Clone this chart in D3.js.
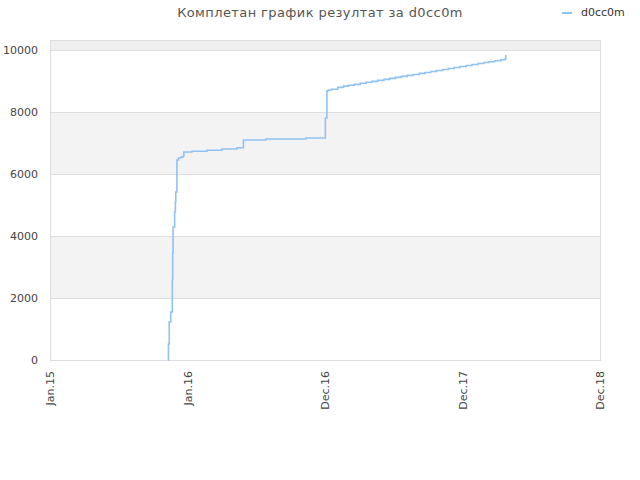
<!DOCTYPE html>
<html><head><meta charset="utf-8">
<script src="https://cdn.jsdelivr.net/npm/d3@7"></script>
<style>body{margin:0;background:#fff}svg{display:block}text{font-family:"DejaVu Sans",sans-serif}</style>
</head><body><svg id="c" width="640" height="480"></svg>
<script>
const title = "Комплетан график резултат за d0cc0m";
const seriesName = "d0cc0m";
const xTickLabels = ["Jan.15","Jan.16","Dec.16","Dec.17","Dec.18"];
const xDomain = ["2015-01-15","2018-12-15"];
const yTicks = [0,2000,4000,6000,8000,10000];
const yMax = 10323;
const dates = ["2015-11-18","2015-11-19","2015-11-21","2015-11-25","2015-11-29","2015-11-30","2015-12-01","2015-12-05","2015-12-07","2015-12-08","2015-12-11","2015-12-15","2015-12-21","2015-12-27","2015-12-29","2016-01-19","2016-02-27","2016-04-06","2016-05-15","2016-06-01","2016-07-29","2016-11-10","2016-12-31","2017-01-04","2017-01-08","2017-01-16","2017-02-01","2017-02-16","2017-03-01","2017-03-16","2017-04-01","2017-04-16","2017-05-01","2017-05-16","2017-06-01","2017-06-16","2017-07-01","2017-07-16","2017-08-01","2017-08-16","2017-09-01","2017-09-16","2017-10-01","2017-10-16","2017-11-01","2017-11-16","2017-12-01","2017-12-16","2018-01-01","2018-01-16","2018-02-01","2018-02-16","2018-03-01","2018-03-16","2018-04-01","2018-04-12","2018-04-14"];
const values = [0,516,1226,1548,2581,3452,4290,4774,5097,5419,6452,6516,6548,6581,6710,6732,6765,6806,6848,7097,7129,7161,7806,8687,8710,8734,8795,8835,8862,8893,8926,8958,8989,9020,9054,9085,9116,9148,9181,9212,9246,9277,9308,9339,9373,9404,9435,9467,9500,9531,9565,9596,9623,9654,9688,9710,9840];

const svg = d3.select("#c");
const L=50,R=600,T=40,B=360;
const parse = d3.utcParse("%Y-%m-%d");
const x = d3.scaleUtc().domain(xDomain.map(parse)).range([L,R]);
const y = d3.scaleLinear().domain([0,yMax]).range([B,T]);

// bands
const bandEdges = yTicks.concat([yMax]);
for(let i=0;i<bandEdges.length-1;i++){
  if(i%2===1){
    svg.append("rect").attr("x",L).attr("width",R-L)
      .attr("y",y(bandEdges[i+1])).attr("height",y(bandEdges[i])-y(bandEdges[i+1]))
      .attr("fill", i===bandEdges.length-2 ? "#efefef" : "#f3f3f3");
  }
}
// grid
svg.append("g").selectAll("line").data(yTicks).join("line")
  .attr("x1",L).attr("x2",R).attr("y1",d=>y(d)).attr("y2",d=>y(d))
  .attr("stroke","#dddddd").attr("stroke-width",1).attr("shape-rendering","crispEdges");
svg.append("rect").attr("x",L).attr("y",T).attr("width",R-L).attr("height",B-T)
  .attr("fill","none").attr("stroke","#dddddd").attr("shape-rendering","crispEdges");

// y labels
svg.append("g").selectAll("text").data(yTicks).join("text")
  .attr("x",38).attr("y",d=>y(d)+4).attr("text-anchor","end")
  .attr("font-size",11).attr("fill","#444").text(d=>d);

// x labels
const d0 = x.domain()[0].getTime(), d1 = x.domain()[1].getTime();
const xTicks = xTickLabels.map((l,i)=>new Date(d0+(d1-d0)*i/(xTickLabels.length-1)));
svg.append("g").selectAll("text").data(xTicks).join("text")
  .attr("transform",d=>`translate(${x(d)+4},371) rotate(-90)`)
  .attr("text-anchor","end").attr("font-size",11).attr("fill","#444")
  .text((d,i)=>xTickLabels[i]);

// line
const data = dates.map((d,i)=>({t:parse(d),v:values[i]}));
svg.append("path").datum(data)
  .attr("d",d3.line().x(d=>x(d.t)).y(d=>y(d.v)).curve(d3.curveStepAfter))
  .attr("fill","none").attr("stroke","#90c2f4").attr("stroke-width",1.6);

// title
svg.append("text").attr("x",320).attr("y",17).attr("text-anchor","middle")
  .attr("font-size",13).attr("fill","#555").attr("letter-spacing",0.4).text(title);
// legend
svg.append("line").attr("x1",562).attr("x2",572).attr("y1",13).attr("y2",13)
  .attr("stroke","#90c2f4").attr("stroke-width",2);
svg.append("text").attr("x",581).attr("y",16).attr("font-size",11).attr("fill","#333").text(seriesName);
</script></body></html>
